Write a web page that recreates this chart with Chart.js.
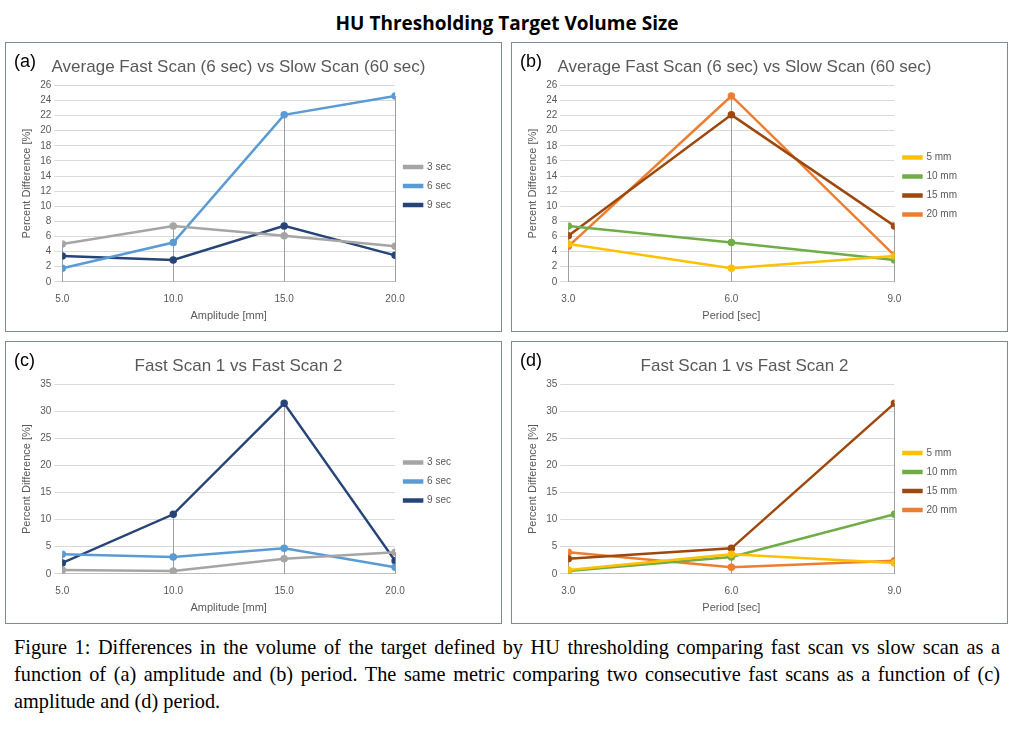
<!DOCTYPE html>
<html><head><meta charset="utf-8">
<script src="https://cdn.jsdelivr.net/npm/chart.js@4"></script>
<style>
body{margin:0;background:#fff;width:1014px;height:730px;position:relative;font-family:"Liberation Sans",Arial,sans-serif}
#title{position:absolute;top:10px;left:0;width:1014px;text-align:center;font:bold 19px "Open Sans","Liberation Sans",sans-serif}
.panel{position:absolute;border:1px solid #7f8a99;background:#fff}
.panel span{position:absolute;left:8px;top:8px;font-size:18px;color:#000}
#caption{position:absolute;left:14px;top:634px;width:986px;font:20.3px/27px "Liberation Serif","Times New Roman",serif;text-align:justify}
</style></head><body>
<div id="title">HU Thresholding Target Volume Size</div>
<div class="panel" style="left:5px;top:42px"><canvas id="ca" width="495" height="288"></canvas><span>(a)</span></div>
<div class="panel" style="left:511px;top:42px"><canvas id="cb" width="495" height="288"></canvas><span>(b)</span></div>
<div class="panel" style="left:5px;top:341px"><canvas id="cc" width="495" height="281"></canvas><span>(c)</span></div>
<div class="panel" style="left:511px;top:341px"><canvas id="cd" width="495" height="281"></canvas><span>(d)</span></div>
<div id="caption">Figure 1: Differences in the volume of the target defined by HU thresholding comparing fast scan vs slow scan as a function of (a) amplitude and (b) period. The same metric comparing two consecutive fast scans as a function of (c) amplitude and (d) period.</div>
<script>
// valeurs
const amplitudes = [5, 10, 15, 20];
const periods = [3, 6, 9];
const periodLabels = ['3 sec', '6 sec', '9 sec'];
const ampLabels = ['5 mm', '10 mm', '15 mm', '20 mm'];
const periodColors = ['#A5A5A5', '#5B9BD5', '#264478'];
const ampColors = ['#FFC000', '#70AD47', '#9E480E', '#ED7D31'];

// fast vs slow, par période (lignes) et amplitude (colonnes)
const slow3 = [5.0, 7.4, 6.1, 4.7];
const slow6 = [1.8, 5.2, 22.1, 24.6];
const slow9 = [3.4, 2.9, 7.4, 3.5];
// fast 1 vs fast 2
const fast3 = [0.7, 0.5, 2.8, 4.0];
const fast6 = [3.6, 3.1, 4.7, 1.2];
const fast9 = [2.0, 11.0, 31.5, 2.4];

const dropLines = {
    id: 'dropLines',
    beforeDatasetsDraw(chart) {
        const {ctx, scales: {x, y}} = chart;
        const maxAt = {};
        chart.data.datasets.forEach(ds => ds.data.forEach(p => {
            maxAt[p.x] = Math.max(maxAt[p.x] ?? -Infinity, p.y);
        }));
        ctx.save();
        ctx.strokeStyle = '#a0a0a0';
        ctx.lineWidth = 1;
        Object.keys(maxAt).forEach(k => {
            const px = Math.round(x.getPixelForValue(+k)) + 0.5;
            ctx.beginPath();
            ctx.moveTo(px, y.getPixelForValue(0));
            ctx.lineTo(px, y.getPixelForValue(maxAt[k]));
            ctx.stroke();
        });
        ctx.restore();
    }
};

function makeChart(id, title, xs, series, labels, colors, xTitle, xStep, yMax, yStep) {
    new Chart(document.getElementById(id), {
        type: 'line',
        data: {
            datasets: series.map((s, i) => ({
                label: labels[i],
                data: s.map((v, j) => ({x: xs[j], y: v})),
                borderColor: colors[i],
                backgroundColor: colors[i],
                borderWidth: 2.5,
                pointRadius: 2.5,
                fill: false
            }))
        },
        options: {
            responsive: false,
            animation: false,
            layout: {padding: {left: 10, right: 40, top: 4, bottom: 6}},
            plugins: {
                title: {display: true, text: title, color: '#595959', font: {size: 17, weight: 'normal'}, padding: {top: 10, bottom: 8}},
                legend: {
                    position: 'right',
                    labels: {boxWidth: 18, boxHeight: 2, font: {size: 10}, color: '#595959', padding: 9}
                }
            },
            scales: {
                x: {
                    type: 'linear', min: xs[0], max: xs[xs.length - 1],
                    ticks: {stepSize: xStep, callback: v => v.toFixed(1), font: {size: 10}, color: '#595959'},
                    grid: {display: false},
                    border: {color: '#bfbfbf'},
                    title: {display: true, text: xTitle, font: {size: 11}, color: '#595959', padding: 2}
                },
                y: {
                    min: 0, max: yMax,
                    ticks: {stepSize: yStep, font: {size: 10}, color: '#595959'},
                    grid: {color: '#d9d9d9'},
                    border: {display: false},
                    title: {display: true, text: 'Percent Difference [%]', font: {size: 11}, color: '#595959'}
                }
            }
        },
        plugins: [dropLines]
    });
}

const tA = 'Average Fast Scan (6 sec) vs Slow Scan (60 sec)';
const tC = 'Fast Scan 1 vs Fast Scan 2';
const slowRows = [slow3, slow6, slow9];
const fastRows = [fast3, fast6, fast9];
const byAmp = rows => amplitudes.map((_, j) => rows.map(r => r[j]));

makeChart('ca', tA, amplitudes, slowRows, periodLabels, periodColors, 'Amplitude [mm]', 5, 26, 2);
makeChart('cb', tA, periods, byAmp(slowRows), ampLabels, ampColors, 'Period [sec]', 3, 26, 2);
makeChart('cc', tC, amplitudes, fastRows, periodLabels, periodColors, 'Amplitude [mm]', 5, 35, 5);
makeChart('cd', tC, periods, byAmp(fastRows), ampLabels, ampColors, 'Period [sec]', 3, 35, 5);
</script>
</body></html>
